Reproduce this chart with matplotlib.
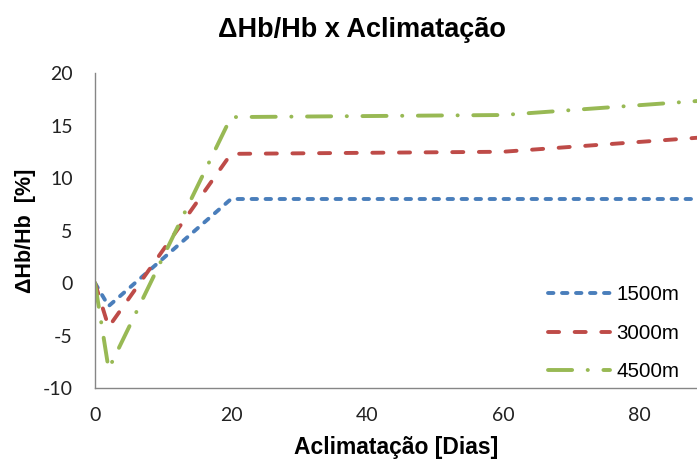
import matplotlib
matplotlib.use("Agg")
import matplotlib.pyplot as plt

plt.rcParams["axes.unicode_minus"] = False

# days of acclimatisation and relative haemoglobin change (%)
dias = [0, 2, 20, 60, 90]
hb_1500 = [0, -2.2, 8.0, 8.0, 8.0]
hb_3000 = [0, -4.2, 12.3, 12.5, 13.9]
hb_4500 = [0, -8.2, 15.8, 16.0, 17.4]

labels = ["1500m", "3000m", "4500m"]
cores = ["#4A7EBB", "#BE4B48", "#98B954"]
estilos = [
    (0, (1.4, 2.2)),
    (0, (2.85, 4.0)),
    (0, (6.2, 4.0, 0.05, 4.0)),
]

fig = plt.figure(figsize=(6.97, 4.61), dpi=100)
ax = fig.add_axes([95 / 697, 1 - 388 / 461, 1 - 95 / 697, 315 / 461])

for serie, lab, cor, ls in zip([hb_1500, hb_3000, hb_4500], labels, cores, estilos):
    ax.plot(dias, serie, color=cor, lw=2.8, linestyle=ls,
            dash_capstyle="round", solid_capstyle="round", label=lab)

ax.set_xlim(0, 88.5)
ax.set_ylim(-10, 20)
ax.set_xticks([0, 20, 40, 60, 80])
ax.set_yticks([-10, -5, 0, 5, 10, 15, 20])

for s in ["top", "right"]:
    ax.spines[s].set_visible(False)
for s in ["left", "bottom"]:
    ax.spines[s].set_color("#868686")
    ax.spines[s].set_linewidth(1.0)

ax.tick_params(length=0, labelsize=14, labelcolor="#222222")
ax.tick_params(axis="y", pad=16)
ax.tick_params(axis="x", pad=14)
for t in ax.get_xticklabels() + ax.get_yticklabels():
    t.set_family("Lato")

ax.set_xlabel("Aclimatação [Dias]", family="Liberation Sans", fontweight="bold",
              fontsize=16.5, labelpad=8)
ax.set_ylabel("ΔHb/Hb  [%]", family="Liberation Sans", fontweight="bold",
              fontsize=15.5, labelpad=5)
fig.text(362 / 697, 1 - 30 / 461, "ΔHb/Hb x Aclimatação", family="Liberation Sans",
         fontweight="bold", fontsize=19.5, ha="center", va="center")

leg = ax.legend(loc="upper left", bbox_to_anchor=(538 / 697, 1 - 275 / 461),
                bbox_transform=fig.transFigure, frameon=False, borderpad=0,
                handlelength=3.0, handletextpad=0.3, labelspacing=0.95,
                prop={"family": "Liberation Sans", "size": 14.8})

fig.savefig("out.png", dpi=100)
